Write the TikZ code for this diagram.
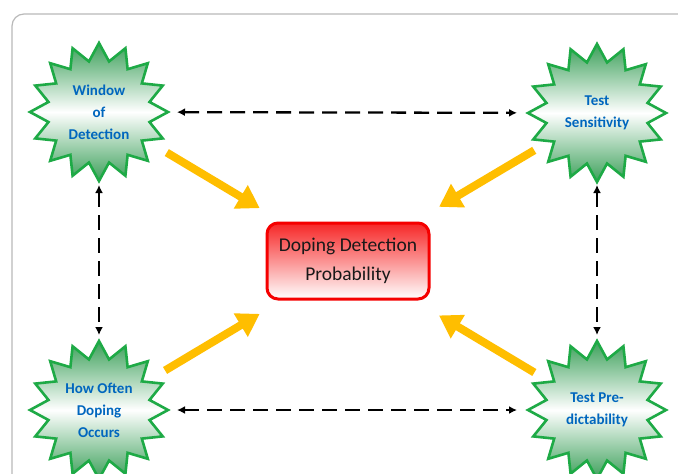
\documentclass[tikz,border=0pt]{standalone}
\usepackage{fontspec}
\setmainfont{Carlito}
\usetikzlibrary{shapes.geometric,arrows.meta}
\definecolor{stargreen}{RGB}{30,170,70}
\definecolor{starfill}{RGB}{60,160,90}
\definecolor{txtblue}{RGB}{0,102,190}
\definecolor{boxred}{RGB}{245,0,0}
\definecolor{arrorange}{RGB}{255,190,0}
\definecolor{framegray}{RGB}{185,185,185}
\tikzset{
  burst/.style={star, star points=16, star point ratio=1.34, minimum size=138pt,
    inner sep=0pt, draw=stargreen, line width=2.6pt,
    top color=starfill, bottom color=starfill, middle color=white,
    font=\fontsize{15}{22}\selectfont\bfseries, text=txtblue, align=center},
  probbox/.style={rectangle, rounded corners=11pt, draw=boxred, line width=3pt,
    minimum width=162pt, minimum height=76pt, top color=boxred!85, bottom color=white,
    font=\fontsize{19.5}{29}\selectfont, text=black!90, align=center},
  dasharr/.style={{Latex[length=8pt,width=8pt]}-{Latex[length=8pt,width=8pt]},
    line width=2.3pt, dash pattern=on 15pt off 8pt},
  bigarr/.style={-{Triangle[length=22pt,width=26pt]}, line width=8pt, draw=arrorange}
}
\begin{document}
\begin{tikzpicture}[x=1pt,y=-1pt]
\clip (0,0) rectangle (678,474);
\fill[white] (0,0) rectangle (678,474);
\draw[framegray, line width=1.2pt, rounded corners=12pt] (12,14) rectangle (720,520);

\node[burst] (wod) at (99,112) {Window\\of\\Detection};
\node[burst] (ts) at (597,113) {Test\\Sensitivity};
\node[burst] (hodo) at (99,410) {How Often\\Doping\\Occurs};
\node[burst] (tp) at (597,410) {Test Pre-\\dictability};
\node[probbox] (prob) at (348,261) {Doping Detection\\Probability};

\draw[dasharr] (wod.center) -- (ts.center) [shorten <=78pt, shorten >=80pt];
\draw[dasharr] (hodo.center) -- (tp.center) [shorten <=78pt, shorten >=80pt];
\draw[dasharr] (wod.center) -- (hodo.center) [shorten <=73pt, shorten >=75pt];
\draw[dasharr] (ts.center) -- (tp.center) [shorten <=72pt, shorten >=75pt];

\draw[bigarr, shorten <=79pt, shorten >=103pt] (wod.center) -- (prob.center);
\draw[bigarr, shorten <=77pt, shorten >=103pt] (hodo.center) -- (prob.center);
\draw[bigarr, shorten <=73pt, shorten >=106pt] (ts.center) -- (prob.center);
\draw[bigarr, shorten <=73pt, shorten >=106pt] (tp.center) -- (prob.center);
\end{tikzpicture}
\end{document}
